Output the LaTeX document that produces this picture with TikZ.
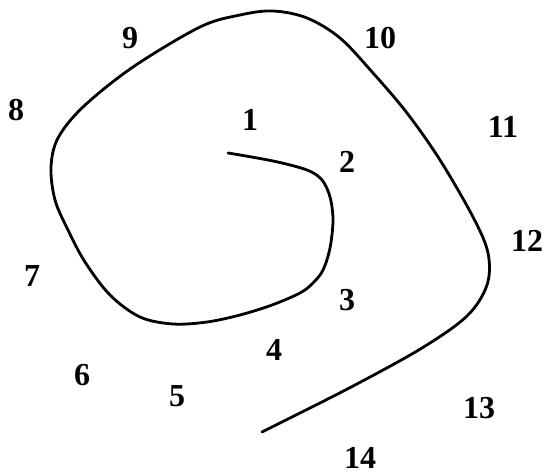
\documentclass[tikz,border=0pt]{standalone}
\usepackage{fontspec}
\setmainfont{Liberation Serif}
\begin{document}
\begin{tikzpicture}[x=0.5pt,y=-0.5pt,every node/.style={font=\fontsize{16}{18}\selectfont\bfseries,inner sep=0pt}]
\useasboundingbox (0,0) rectangle (544,475);
% Spiral curve
\draw[line width=1.4pt,line cap=round] plot[smooth,tension=0.55] coordinates {
 (228,153) (273,161) (307,170) (322,180) (330,197) (333,220) (330,248)
 (323,270) (313,283) (300,293) (272,305) (240,315) (207,322) (173,324)
 (140,317) (110,295) (85,262) (68,230) (55,200) (51,167) (58,138)
 (83,107) (133,67) (200,27) (240,15) (273,11) (307,18) (340,38) (373,73)
 (407,113) (440,160) (473,217) (488,253) (487,285) (467,316) (422,348)
 (355,385) (290,418) (262,432)};
% Numbers
\node (n1) at (250,120) {1};
\node (n2) at (347,162) {2};
\node (n3) at (347,300) {3};
\node (n4) at (274,350) {4};
\node (n5) at (177,396) {5};
\node (n6) at (82,375) {6};
\node (n7) at (32,276) {7};
\node (n8) at (16,110) {8};
\node (n9) at (130,38) {9};
\node (n10) at (380,38) {10};
\node (n11) at (503,127) {11};
\node (n12) at (527,241) {12};
\node (n13) at (479,408) {13};
\node (n14) at (360,458) {14};
\end{tikzpicture}
\end{document}
